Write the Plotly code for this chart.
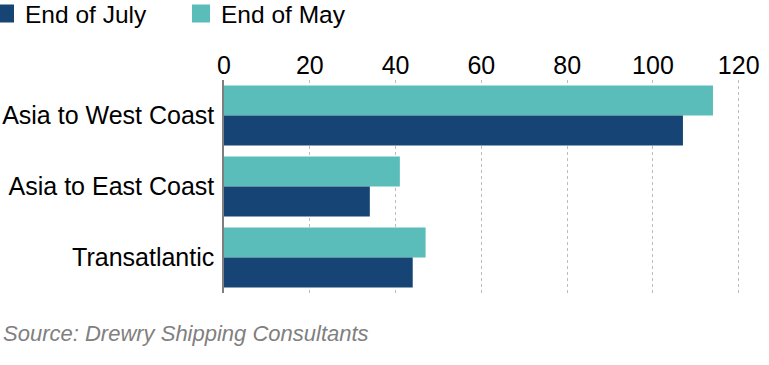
import plotly.graph_objects as go

categories = ["Asia to West Coast", "Asia to East Coast", "Transatlantic"]
end_of_may = [114, 41, 47]
end_of_july = [107, 34, 44]
x_ticks = [0, 20, 40, 60, 80, 100, 120]

NAVY = "#164575"
TEAL = "#5BBDBA"
FONT = "Liberation Sans, Arial, sans-serif"

fig = go.Figure()
# May first -> top of each group (y axis reversed)
fig.add_trace(go.Bar(y=categories, x=end_of_may, orientation="h", marker_color=TEAL,
                     marker_line_width=0, showlegend=False, name="End of May"))
fig.add_trace(go.Bar(y=categories, x=end_of_july, orientation="h", marker_color=NAVY,
                     marker_line_width=0, showlegend=False, name="End of July"))
# legend entries
fig.add_trace(go.Scatter(x=[None], y=[None], mode="markers", name="End of July",
                         marker=dict(symbol="square", size=16, color=NAVY,
                                     line=dict(color=NAVY, width=2))))
fig.add_trace(go.Scatter(x=[None], y=[None], mode="markers", name="End of May",
                         marker=dict(symbol="square", size=16, color=TEAL,
                                     line=dict(color=TEAL, width=2))))

L, R = 224, 743
T, B = 80, 293
PW, PH = R - L, B - T
fig.update_layout(
    width=769, height=365,
    margin=dict(l=L, r=769 - R, t=T, b=365 - B, autoexpand=False),
    paper_bgcolor="white", plot_bgcolor="white",
    barmode="group", bargap=0.155, bargroupgap=0,
    font=dict(family=FONT, color="#000000", size=25),
    legend=dict(orientation="h", xref="paper", x=(-15 - L) / PW, xanchor="left",
                yref="paper", y=1 + (T + 9) / PH, yanchor="top", font=dict(size=24.5),
                itemsizing="trace", entrywidth=151, bgcolor="rgba(0,0,0,0)"),
    xaxis=dict(side="top", range=[0, 121], tickvals=x_ticks, showgrid=True,
               gridcolor="#bdbdbd", griddash="dot", gridwidth=1, zeroline=False,
               showline=False, ticks="", tickfont=dict(size=25), layer="above traces"),
    yaxis=dict(autorange="reversed", showline=True, linecolor="#7f7f7f", linewidth=1.5,
               ticks="", tickfont=dict(size=25), ticklabelstandoff=3, showgrid=False),
    annotations=[dict(text="<i>Source: Drewry Shipping Consultants</i>", xref="paper", yref="paper",
                      x=(1 - L) / PW, y=-(333 - B) / PH, xanchor="left", yanchor="middle",
                      showarrow=False, font=dict(size=22, color="#808080", family=FONT))],
)

fig.write_html("out.html", config={"displayModeBar": False},
               post_script="document.body.style.margin='0';")
